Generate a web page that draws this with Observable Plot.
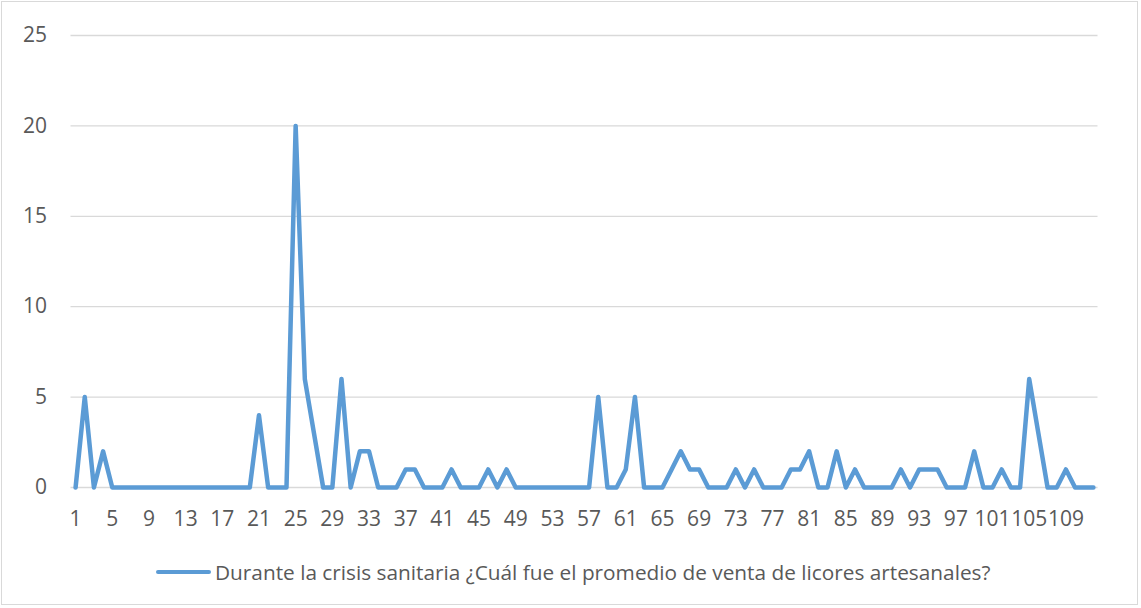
<!DOCTYPE html>
<html>
<head>
<meta charset="utf-8">
<script src="https://cdn.jsdelivr.net/npm/d3@7"></script>
<script src="https://cdn.jsdelivr.net/npm/@observablehq/plot@0.6"></script>
<style>
  html, body { margin: 0; padding: 0; background: #fff; }
  #frame { position: absolute; left: 1px; top: 1px; width: 1137px; height: 604px; border: 1px solid #d9d9d9; box-sizing: border-box; }
  #chart { position: absolute; left: 0; top: 0; }
  #legend { position: absolute; left: 156px; top: 557px; height: 30px; display: flex; align-items: center;
            font-family: "Open Sans", sans-serif; font-size: 20.8px; color: #595959; white-space: nowrap; }
  #legend .swatch { width: 55px; height: 4.5px; background: #5B9BD5; border-radius: 3px; margin-right: 4px; }
</style>
</head>
<body>
<div id="frame"></div>
<div id="chart"></div>
<div id="legend"><span class="swatch"></span><span id="legtext"></span></div>
<script>
const seriesName = "Durante la crisis sanitaria ¿Cuál fue el promedio de venta de licores artesanales?";

const categories = [
  1,2,3,4,5,6,7,8,9,10,11,12,13,14,15,16,17,18,19,20,
  21,22,23,24,25,26,27,28,29,30,31,32,33,34,35,36,37,38,39,40,
  41,42,43,44,45,46,47,48,49,50,51,52,53,54,55,56,57,58,59,60,
  61,62,63,64,65,66,67,68,69,70,71,72,73,74,75,76,77,78,79,80,
  81,82,83,84,85,86,87,88,89,90,91,92,93,94,95,96,97,98,99,100,
  101,102,103,104,105,106,107,108,109,110,111,112
];

const values = [
  0,5,0,2,0,0,0,0,0,0,0,0,0,0,0,0,0,0,0,0,
  4,0,0,0,20,6,3,0,0,6,0,2,2,0,0,0,1,1,0,0,
  0,1,0,0,0,1,0,1,0,0,0,0,0,0,0,0,0,5,0,0,
  1,5,0,0,0,1,2,1,1,0,0,0,1,0,1,0,0,0,1,1,
  2,0,0,2,0,1,0,0,0,0,1,0,1,1,1,0,0,0,2,0,
  0,1,0,0,6,3,0,0,1,0,0,0
];

const xTickLabels = [1,5,9,13,17,21,25,29,33,37,41,45,49,53,57,61,65,69,73,77,81,85,89,93,97,101,105,109];
const yTickLabels = [0,5,10,15,20,25];

const data = categories.map((c, i) => ({cat: c, value: values[i]}));

const chart = Plot.plot({
  width: 1141,
  height: 545,
  marginLeft: 70.5,
  marginRight: 43.5,
  marginTop: 35,
  marginBottom: 58,
  style: {fontFamily: "'Open Sans', sans-serif", fontSize: "21px", color: "#595959", background: "transparent", overflow: "visible"},
  x: {type: "linear", domain: [0.5, 112.5]},
  y: {domain: [0, 25]},
  marks: [
    Plot.ruleY(yTickLabels, {stroke: "#d9d9d9", strokeWidth: 1.3}),
    Plot.axisX({ticks: xTickLabels, tickSize: 0, tickPadding: 24, label: null, tickFormat: d => String(d), fill: "#595959"}),
    Plot.axisY({ticks: yTickLabels, tickSize: 0, tickPadding: 24, label: null, tickFormat: d => String(d), fill: "#595959"}),
    Plot.lineY(data, {x: "cat", y: "value", stroke: "#5B9BD5", strokeWidth: 4.5, strokeLinejoin: "round", strokeLinecap: "round"})
  ]
});
document.getElementById("chart").appendChild(chart);
document.getElementById("legtext").textContent = seriesName;
</script>
</body>
</html>
